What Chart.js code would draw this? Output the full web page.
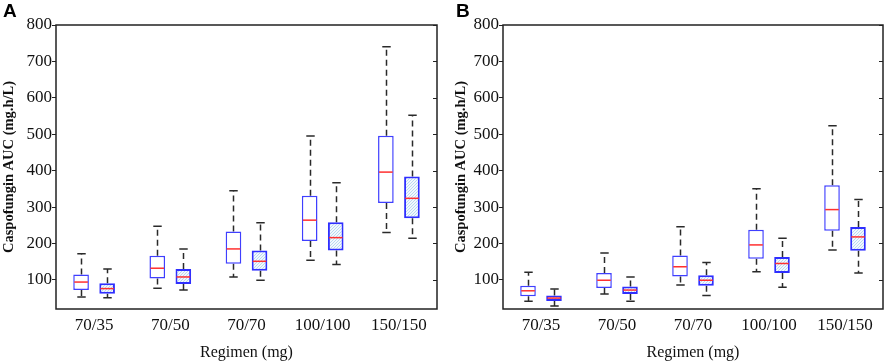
<!DOCTYPE html>
<html>
<head>
<meta charset="utf-8">
<script src="https://cdn.jsdelivr.net/npm/chart.js@4.4.1/dist/chart.umd.min.js"></script>
<style>
  html, body { margin: 0; padding: 0; background: #fff; }
  #wrap { position: relative; width: 886px; height: 364px; overflow: hidden; }
  canvas { position: absolute; top: 0; }
  .lbl { position: absolute; font: bold 19px "Liberation Sans", Arial, sans-serif; color: #000; }
</style>
</head>
<body>
<div id="wrap">
  <canvas id="cA" width="440" height="364" style="left:0"></canvas>
  <canvas id="cB" width="446" height="364" style="left:440px"></canvas>
  <div class="lbl" style="left:3px; top:0px;">A</div>
  <div class="lbl" style="left:456px; top:0px;">B</div>
</div>
<script>
// ---- data ----
const categories = ['70/35', '70/50', '70/70', '100/100', '150/150'];
const yTickValues = [100, 200, 300, 400, 500, 600, 700, 800];

// Panel A, box 1 (open)
const a1Min = [53, 77, 108, 154, 230];
const a1Q1  = [72, 104, 144, 207, 311];
const a1Med = [94, 132, 185, 264, 396];
const a1Q3  = [115, 166, 233, 331, 496];
const a1Max = [172, 247, 345, 495, 740];
// Panel A, box 2 (hatched)
const a2Min = [51, 72, 99, 142, 214];
const a2Q1  = [62, 89, 125, 181, 269];
const a2Med = [76, 108, 151, 216, 324];
const a2Q3  = [91, 130, 181, 258, 384];
const a2Max = [130, 185, 257, 367, 552];
// Panel B, box 1 (open)
const b1Min = [41, 61, 86, 122, 182];
const b1Q1  = [55, 78, 109, 158, 235];
const b1Med = [70, 99, 136, 196, 293];
const b1Q3  = [84, 119, 167, 238, 360];
const b1Max = [121, 174, 246, 350, 523];
// Panel B, box 2 (hatched)
const b2Min = [28, 41, 57, 80, 119];
const b2Q1  = [42, 61, 84, 119, 180];
const b2Med = [50, 72, 99, 145, 218];
const b2Q3  = [57, 82, 113, 163, 245];
const b2Max = [75, 108, 148, 214, 321];

// ---- hatch pattern ----
function makeHatch() {
  const c = document.createElement('canvas');
  c.width = 3; c.height = 3;
  const x = c.getContext('2d');
  x.fillStyle = '#f2f8fd';
  x.fillRect(0, 0, 3, 3);
  x.fillStyle = '#b9d9f0';
  // diagonal "/" pixels
  x.fillRect(2, 0, 1, 1);
  x.fillRect(1, 1, 1, 1);
  x.fillRect(0, 2, 1, 1);
  return x.createPattern(c, 'repeat');
}

const SERIF = '"Liberation Serif", "Times New Roman", serif';

const boxPlugin = {
  id: 'boxParts',
  beforeDatasetsDraw(chart) {
    const ctx = chart.ctx;
    const y = chart.scales.y;
    chart.data.datasets.forEach((ds, i) => {
      const meta = chart.getDatasetMeta(i);
      meta.data.forEach((el, j) => {
        const x = Math.round(el.x) + 0.5;
        const w = el.width;
        const pMin = y.getPixelForValue(ds.whMin[j]);
        const pMax = y.getPixelForValue(ds.whMax[j]);
        const pQ1 = y.getPixelForValue(ds.data[j][0]);
        const pQ3 = y.getPixelForValue(ds.data[j][1]);
        ctx.save();
        ctx.strokeStyle = '#2a2a2a';
        ctx.lineWidth = 1.5;
        ctx.setLineDash([6, 4]);
        ctx.beginPath();
        ctx.moveTo(x, pQ3); ctx.lineTo(x, pMax);
        ctx.moveTo(x, pQ1); ctx.lineTo(x, pMin);
        ctx.stroke();
        ctx.setLineDash([]);
        ctx.beginPath();
        ctx.moveTo(x - w * 0.27, pMax); ctx.lineTo(x + w * 0.27, pMax);
        ctx.moveTo(x - w * 0.27, pMin); ctx.lineTo(x + w * 0.27, pMin);
        ctx.stroke();
        ctx.restore();
      });
    });
  },
  afterDatasetsDraw(chart) {
    const ctx = chart.ctx;
    const y = chart.scales.y;
    chart.data.datasets.forEach((ds, i) => {
      const meta = chart.getDatasetMeta(i);
      meta.data.forEach((el, j) => {
        const w = el.width;
        const pMed = y.getPixelForValue(ds.med[j]);
        ctx.save();
        ctx.strokeStyle = '#ff3030';
        ctx.lineWidth = 1.5;
        ctx.beginPath();
        ctx.moveTo(el.x - w / 2 + 1, pMed); ctx.lineTo(el.x + w / 2 - 1, pMed);
        ctx.stroke();
        ctx.restore();
      });
    });
    // frame + inward ticks on right
    const a = chart.chartArea;
    ctx.save();
    ctx.strokeStyle = '#222';
    ctx.lineWidth = 1.5;
    ctx.strokeRect(a.left, a.top, a.right - a.left, a.bottom - a.top);
    ctx.lineWidth = 1;
    ctx.beginPath();
    y.ticks.forEach(t => {
      const py = Math.round(y.getPixelForValue(t.value)) + 0.5;
      ctx.moveTo(a.right - 4, py); ctx.lineTo(a.right, py);
    });
    ctx.stroke();
    ctx.restore();
  }
};

function makeChart(id, s1, s2, titlePadLeft, yAxisWidth) {
  const hatch = makeHatch();
  const d1 = categories.map((c, i) => [s1.q1[i], s1.q3[i]]);
  const d2 = categories.map((c, i) => [s2.q1[i], s2.q3[i]]);
  return new Chart(document.getElementById(id), {
    type: 'bar',
    data: {
      labels: categories,
      datasets: [
        { data: d1, whMin: s1.min, whMax: s1.max, med: s1.med,
          backgroundColor: '#ffffff', borderColor: '#3f3fff', borderWidth: 1.5,
          borderSkipped: false, categoryPercentage: 0.684, barPercentage: 0.6 },
        { data: d2, whMin: s2.min, whMax: s2.max, med: s2.med,
          backgroundColor: hatch, borderColor: '#2f2fff', borderWidth: 2,
          borderSkipped: false, categoryPercentage: 0.684, barPercentage: 0.6 }
      ]
    },
    options: {
      responsive: false,
      animation: false,
      events: [],
      layout: { padding: { left: 0, right: 3, top: 25, bottom: 0 } },
      plugins: { legend: { display: false }, tooltip: { enabled: false } },
      scales: {
        x: {
          offset: true,
          grid: { display: false },
          border: { display: false },
          ticks: { color: '#111', font: { family: SERIF, size: 17 }, padding: -2, maxRotation: 0 },
          title: { display: true, text: 'Regimen (mg)', color: '#111',
                   font: { family: SERIF, size: 16 }, padding: { top: 0, bottom: 2 } },
          afterFit(scale) { scale.height = 55; }
        },
        y: {
          min: 20, max: 800,
          afterBuildTicks(scale) {
            scale.ticks = yTickValues.map(v => ({ value: v }));
          },
          grid: { drawOnChartArea: false, drawTicks: true, tickLength: 4, color: '#222' },
          border: { display: false },
          ticks: { color: '#111', font: { family: SERIF, size: 17 }, padding: 0 },
          title: { display: true, text: 'Caspofungin AUC (mg.h/L)', color: '#111',
                   font: { family: SERIF, size: 14.5, weight: 'bold' },
                   padding: { top: titlePadLeft, bottom: 0 } },
          afterFit(scale) { scale.width = yAxisWidth; }
        }
      }
    },
    plugins: [boxPlugin]
  });
}

makeChart('cA',
  { min: a1Min, q1: a1Q1, med: a1Med, q3: a1Q3, max: a1Max },
  { min: a2Min, q1: a2Q1, med: a2Med, q3: a2Q3, max: a2Max },
  1, 56);
makeChart('cB',
  { min: b1Min, q1: b1Q1, med: b1Med, q3: b1Q3, max: b1Max },
  { min: b2Min, q1: b2Q1, med: b2Med, q3: b2Q3, max: b2Max },
  13, 63);
</script>
</body>
</html>
